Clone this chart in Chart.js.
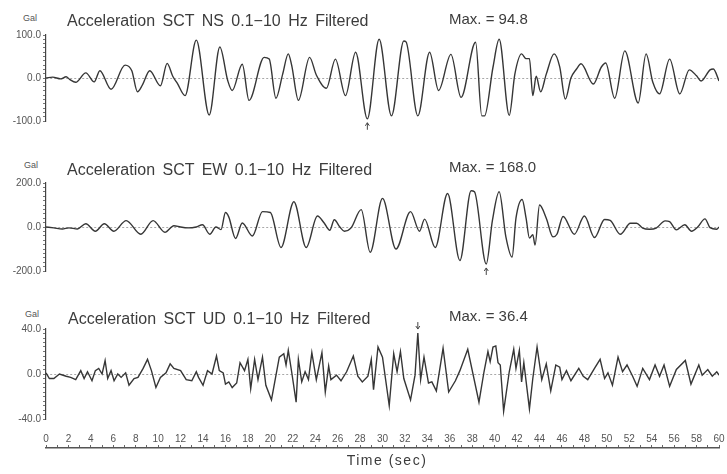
<!DOCTYPE html>
<html>
<head>
<meta charset="utf-8">
<script src="https://cdn.jsdelivr.net/npm/chart.js@4"></script>
<style>
  body { margin: 0; background: #fff; }
  #fig { position: relative; width: 727px; height: 474px; font-family: "Liberation Sans", Arial, sans-serif; color: #3c3c3c; }
  #fig canvas { position: absolute; left: 0; }
  .lbl { position: absolute; white-space: nowrap; line-height: 1; }
  .title { font-size: 16px; word-spacing: 3px; }
  .max { font-size: 15px; }
  .unit { font-size: 9px; color: #555; }
  .xtitle { font-size: 14px; letter-spacing: 1.5px; width: 120px; text-align: center; }
</style>
</head>
<body>
<div id="fig">
  <canvas id="ns" width="727" height="106" style="top:25px"></canvas>
  <canvas id="ew" width="727" height="108" style="top:173px"></canvas>
  <canvas id="ud" width="727" height="110" style="top:319px"></canvas>
  <canvas id="time" width="727" height="34" style="top:420px"></canvas>

  <div class="lbl unit" style="left:23px;top:14px">Gal</div>
  <div class="lbl title" style="left:67px;top:13px">Acceleration SCT NS 0.1−10 Hz Filtered</div>
  <div class="lbl max" style="left:449px;top:11px">Max. = 94.8</div>

  <div class="lbl unit" style="left:24px;top:161px">Gal</div>
  <div class="lbl title" style="left:67px;top:162px">Acceleration SCT EW 0.1−10 Hz Filtered</div>
  <div class="lbl max" style="left:449px;top:159px">Max. = 168.0</div>

  <div class="lbl unit" style="left:25px;top:310px">Gal</div>
  <div class="lbl title" style="left:68px;top:311px">Acceleration SCT UD 0.1−10 Hz Filtered</div>
  <div class="lbl max" style="left:449px;top:308px">Max. = 36.4</div>

  <div class="lbl xtitle" style="left:327px;top:453px">Time (sec)</div>
</div>
<script>
// time in seconds, acceleration in Gal (peaks and troughs of each trace)
const nsTime = [0, 0.6, 1.3, 1.8, 2.1, 2.65, 3.55, 4.3, 4.8, 5.8,
  7.05, 7.65, 8.15, 8.6, 9.25, 10.2, 10.8, 11.3, 11.7, 12.4,
  13.4, 14.55, 15.5, 16.2, 16.6, 17.5, 18.1, 19.45, 19.9, 20.5,
  21.1, 21.6, 21.9, 22.5, 23.5, 24.1, 25.0, 25.8, 26.7, 27.6,
  28.65, 29.7, 30.8, 31.9, 32.1, 33.15, 34.2, 35.0, 36.1, 37.0,
  38.3, 38.85, 39.1, 39.85, 40.4, 41.3, 41.8, 42.4, 42.8, 43.1,
  43.4, 43.7, 44.1, 44.6, 45.3, 45.8, 46.3, 46.8, 47.3, 47.7,
  48.8, 49.5, 49.9, 50.7, 51.6, 52.8, 53.5, 54.1, 54.7, 55.6,
  56.5, 57.35, 58.0, 58.4, 59.2, 59.5, 60.0];
const nsAccel = [0, 2, -2, 3, -3, -10, 12, -9, 17, -26,
  30, 17, -32, -16, 17, -18, 34, 4, -12, -41,
  88, -86, 72, -6, -29, 32, -52, 48, 44, -47,
  9, 56, 30, -52, 48, 7, -24, 44, -41, 60,
  -94.8, 90, -88, 86, 84, -88, 60, -29, 55, -45,
  83, -88, -88, 25, 90, -87, 9, 56, 45, 45,
  -41, 4, -32, 9, 56, 26, -49, 0, 21, 33,
  -14, 25, 35, -47, 63, -58, 56, -10, -37, 44,
  -37, 19, 5, -7, 19, 21, -7];

const ewTime = [0, 0.7, 1.45, 2.05, 2.8, 3.55, 4.4, 5.2, 6.05, 7.15,
  8.45, 9.55, 10.6, 11.4, 12.0, 12.6, 13.4, 13.95, 14.6, 15.15,
  15.6, 16.0, 16.3, 16.9, 17.5, 18.4, 19.3, 20.0, 20.95, 22.1,
  23.2, 24.2, 24.8, 25.3, 25.7, 26.2, 26.6, 27.2, 28.1, 28.9,
  30.0, 31.2, 32.5, 33.3, 33.75, 34.7, 35.8, 36.9, 37.9, 38.2,
  39.25, 39.8, 40.4, 41.0, 41.55, 41.9, 42.45, 42.8, 43.1, 43.4,
  43.6, 44.0, 44.6, 45.2, 45.55, 46.1, 47.1, 48.0, 48.9, 49.8,
  50.3, 51.2, 52.1, 52.65, 53.2, 53.8, 54.4, 55.2, 55.6, 56.2,
  56.95, 57.55, 58.1, 58.75, 59.2, 59.8, 60.0];
const ewAccel = [0, -4, -9, -4, -9, 15, -19, 15, -19, 29,
  -33, 29, -24, 6, 0, -4, 0, 10, -33, 0,
  -12, 66, 45, -52, 18, -41, 70, 66, -93, 115,
  -93, 50, 18, -15, 33, 0, -19, -4, 79, -115,
  130, -100, 70, -19, 36, -93, 152, -152, 165, 160,
  -168, 30, 160, -45, -137, 40, 125, 40, -50, -35,
  -82, 100, 40, -45, -33, 48, -33, 50, -48, 34,
  30, -33, 17, 17, -5, -10, -5, 28, 24, -13,
  10, -19, 0, 37, -3, -10, 0];

const udTime = [0, 0.3, 0.7, 1.2, 1.8, 2.2, 2.65, 3.1, 3.4, 3.7,
  4.1, 4.4, 4.7, 5.0, 5.27, 5.5, 5.8, 6.07, 6.4, 6.7,
  7.1, 7.4, 7.85, 8.2, 8.66, 9.05, 9.4, 9.8, 10.2, 10.7,
  11.07, 11.4, 12.0, 12.5, 13.0, 13.4, 13.6, 14.0, 14.4, 14.8,
  15.2, 15.45, 15.8, 16.0, 16.3, 16.6, 17.0, 17.3, 17.7, 18.0,
  18.25, 18.6, 18.9, 19.3, 19.6, 20.1, 20.8, 21.2, 21.4, 21.6,
  21.9, 22.3, 22.5, 22.8, 23.1, 23.4, 23.7, 24.1, 24.6, 24.9,
  25.2, 25.4, 25.9, 26.3, 26.8, 27.4, 27.8, 28.2, 28.7, 29.0,
  29.2, 29.6, 30.0, 30.6, 31.0, 31.3, 31.6, 31.9, 32.5, 32.9,
  33.15, 33.4, 33.7, 34.1, 34.4, 34.8, 35.4, 35.9, 36.5, 36.9,
  37.6, 38.6, 39.05, 39.4, 39.6, 39.85, 40.1, 40.3, 40.5, 40.8,
  41.3, 41.7, 41.9, 42.2, 42.4, 42.6, 43.1, 43.4, 43.78, 44.2,
  44.6, 45.0, 45.45, 45.8, 46.0, 46.4, 46.8, 47.5, 47.9, 48.3,
  48.9, 49.4, 49.8, 50.1, 50.5, 51.0, 51.4, 51.8, 52.3, 52.7,
  53.2, 53.8, 54.3, 54.7, 55.1, 55.6, 56.2, 57.0, 57.5, 58.2,
  58.5, 59.0, 59.4, 59.8, 60.0];
const udAccel = [1, -4, -4, 0, -2, -3, -5, 3, -4, 2,
  -6, 3, 5, 0, 12, -4, 3, -6, 0, -3,
  1, -10, -4, -3, 5, 13, 3, -12, -3, 1,
  9, 5, 3, -5, -6, 2, -3, -10, 3, 0,
  16, 3, 1, -9, -7, -12, -8, 10, 3, 13,
  -13, 13, -5, 15, -10, -23, 15, 18, 8, 21,
  2, -25, 13, -7, 2, -5, 19, -5, 19, -16,
  7, -5, -1, -6, 2, 16, -2, -7, -2, 13,
  -14, 24, 15, -28, 18, 2, 20, -4, -23, -1,
  36.4, -5, 15, -8, -7, -15, 23, -16, -6, 3,
  22, -25, 2, 20, 11, 24, 25, 10, 8, -33,
  2, 22, 5, 21, -7, 10, -31, -4, 24, -5,
  9, -15, 8, 6, -5, 3, -6, 5, -2, -5,
  5, 13, -4, 1, -10, 15, 2, 8, -2, -11,
  5, -5, 8, -2, 8, -11, 4, 12, -9, 8,
  -1, 4, -2, 2, -1];

const timeRange = [0, 60];
const yLimits = { ns: 100, ew: 200, ud: 40 };
const yMinorStep = { ns: 10, ew: 20, ud: 4 };

const inkColor = "#363636";
const tickFont = { family: "'Liberation Sans', Arial, sans-serif", size: 10 };

// small arrow pointing at the largest absolute value of the trace
const peakArrow = {
  id: "peakArrow",
  afterDatasetsDraw(chart) {
    const data = chart.data.datasets[0].data;
    let k = 0;
    data.forEach((p, i) => { if (Math.abs(p.y) > Math.abs(data[k].y)) k = i; });
    const pt = chart.getDatasetMeta(0).data[k];
    const dir = data[k].y < 0 ? 1 : -1;
    const y0 = pt.y + dir * 4, y1 = pt.y + dir * 11;
    const ctx = chart.ctx;
    ctx.save();
    ctx.strokeStyle = "#444";
    ctx.lineWidth = 1;
    ctx.beginPath();
    ctx.moveTo(pt.x, y0);
    ctx.lineTo(pt.x, y1);
    ctx.moveTo(pt.x - 2, y0 + dir * 3);
    ctx.lineTo(pt.x, y0);
    ctx.lineTo(pt.x + 2, y0 + dir * 3);
    ctx.stroke();
    ctx.restore();
  }
};

function panel(id, times, accel, limit, step, smooth) {
  const points = times.map((t, i) => ({ x: t, y: accel[i] }));
  return new Chart(document.getElementById(id), {
    type: "line",
    data: {
      datasets: [{
        data: points,
        borderColor: inkColor,
        borderWidth: 1.4,
        pointRadius: 0,
        fill: false,
        cubicInterpolationMode: smooth ? "monotone" : "default",
        tension: 0
      }]
    },
    options: {
      responsive: false,
      animation: false,
      events: [],
      layout: { padding: { left: 0, right: 8, top: 10, bottom: 10 } },
      plugins: { legend: { display: false }, tooltip: { enabled: false } },
      scales: {
        x: { type: "linear", min: timeRange[0], max: timeRange[1], display: false },
        y: {
          min: -limit,
          max: limit,
          afterFit: (scale) => { scale.width = 46; },
          ticks: {
            stepSize: step,
            autoSkip: false,
            padding: 2,
            color: "#555",
            font: tickFont,
            callback: (v) => Math.abs(v % limit) < 1e-6 ? v.toFixed(1) : ""
          },
          grid: {
            color: (c) => c.tick && c.tick.value === 0 ? "#a8a8a8" : "rgba(0,0,0,0)",
            tickColor: "#777",
            tickLength: 3
          },
          border: { color: "#444", width: 1.2, dash: [2, 2] }
        }
      }
    },
    plugins: [peakArrow]
  });
}

panel("ns", nsTime, nsAccel, yLimits.ns, yMinorStep.ns, true);
panel("ew", ewTime, ewAccel, yLimits.ew, yMinorStep.ew, true);
panel("ud", udTime, udAccel, yLimits.ud, yMinorStep.ud, false);

// shared time axis under the three traces
new Chart(document.getElementById("time"), {
  type: "line",
  data: { datasets: [] },
  options: {
    responsive: false,
    animation: false,
    events: [],
    layout: { padding: { left: 46, right: 8, top: 0, bottom: 0 } },
    plugins: { legend: { display: false }, tooltip: { enabled: false } },
    scales: {
      x: {
        type: "linear",
        position: "top",
        min: timeRange[0],
        max: timeRange[1],
        afterFit: (scale) => { scale.height = 28; },
        ticks: {
          stepSize: 1,
          autoSkip: false,
          maxRotation: 0,
          padding: 0,
          color: "#555",
          font: tickFont,
          callback: (v) => v % 2 === 0 ? String(v) : ""
        },
        grid: { drawOnChartArea: false, tickLength: 3, tickColor: "#666" },
        border: { color: "#555", width: 1.5 }
      },
      y: { display: false }
    }
  }
});
</script>
</body>
</html>
